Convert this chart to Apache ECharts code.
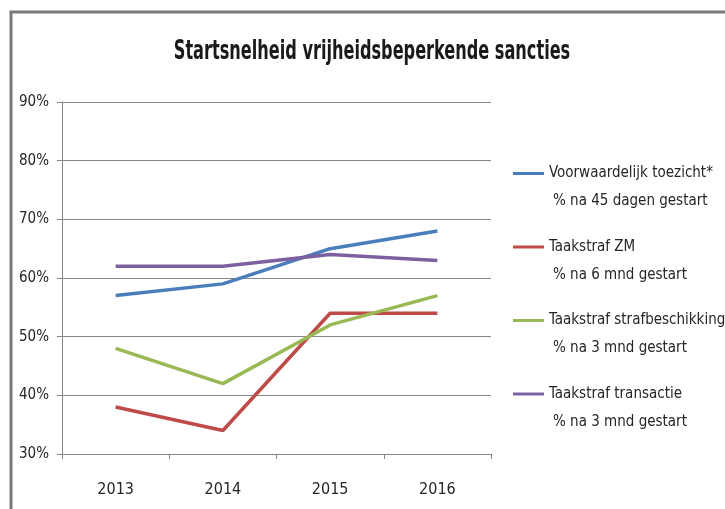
<!DOCTYPE html>
<html><head><meta charset="utf-8">
<script src="https://cdn.jsdelivr.net/npm/echarts@6/dist/echarts.min.js"></script>
<style>html,body{margin:0;padding:0;background:#fff}#c{width:725px;height:509px}</style>
</head><body><div id="c"></div>
<script>
var years = ['2013', '2014', '2015', '2016'];
var seriesNames = ['Voorwaardelijk toezicht*', 'Taakstraf ZM', 'Taakstraf strafbeschikking', 'Taakstraf transactie'];
var subtitles = ['% na 45 dagen gestart', '% na 6 mnd gestart', '% na 3 mnd gestart', '% na 3 mnd gestart'];
var voorwaardelijk = [57, 59, 65, 68];
var taakstrafZM = [38, 34, 54, 54];
var strafbeschikking = [48, 42, 52, 57];
var transactie = [62, 62, 64, 63];
var colors = ['#4a7ebb', '#be4b48', '#98b954', '#7d60a0'];
var values = [voorwaardelijk, taakstrafZM, strafbeschikking, transactie];
var titleText = 'Startsnelheid vrijheidsbeperkende sancties';

var FONT = "'Liberation Sans Narrow', 'DejaVu Sans Condensed', sans-serif";
var chart = echarts.init(document.getElementById('c'));
chart.setOption({
  backgroundColor: '#fff',
  animation: false,
  graphic: [
    { type: 'polyline', shape: { points: [[11, 509], [11, 12], [725, 12]] },
      style: { stroke: '#7a7a7a', lineWidth: 3, fill: null } },
    { type: 'text', x: 372, y: 52, scaleX: 0.69,
      style: { text: titleText, x: 0, y: 0, align: 'center', verticalAlign: 'middle',
        font: "bold 26px 'DejaVu Sans Condensed', sans-serif", fill: '#1a1a1a' } }
  ],
  grid: { left: 62, right: 234, top: 102, bottom: 55 },
  legend: {
    orient: 'vertical', left: 513, top: 166, padding: 0, itemGap: 30.5,
    itemWidth: 31, itemHeight: 3, icon: 'rect',
    data: seriesNames,
    formatter: function (n) { return '{a|' + n + '}\n{b|' + subtitles[seriesNames.indexOf(n)] + '}'; },
    textStyle: {
      fontFamily: FONT, fontSize: 15, color: '#262626', padding: [28, 0, 0, 0],
      rich: {
        a: { fontFamily: FONT, fontSize: 15, color: '#262626', lineHeight: 28 },
        b: { fontFamily: FONT, fontSize: 15, color: '#262626', lineHeight: 28, padding: [0, 0, 0, 4] }
      }
    }
  },
  xAxis: {
    type: 'category', data: years, boundaryGap: true,
    axisLine: { lineStyle: { color: '#868686', width: 1 } },
    axisTick: { show: true, length: 5, lineStyle: { color: '#868686' } },
    axisLabel: { fontFamily: FONT, fontSize: 16, color: '#262626', margin: 28 }
  },
  yAxis: {
    type: 'value', min: 30, max: 90, interval: 10,
    axisLine: { show: true, lineStyle: { color: '#868686', width: 1 } },
    axisTick: { show: true, length: 5, lineStyle: { color: '#868686' } },
    axisLabel: { fontFamily: FONT, fontSize: 15, color: '#262626', margin: 13, formatter: '{value}%' },
    splitLine: { lineStyle: { color: '#868686', width: 1 } }
  },
  series: seriesNames.map(function (n, i) {
    return {
      name: n, type: 'line', data: values[i], symbol: 'none',
      itemStyle: { color: colors[i] },
      lineStyle: { color: colors[i], width: 3.5 }
    };
  })
});
</script></body></html>
